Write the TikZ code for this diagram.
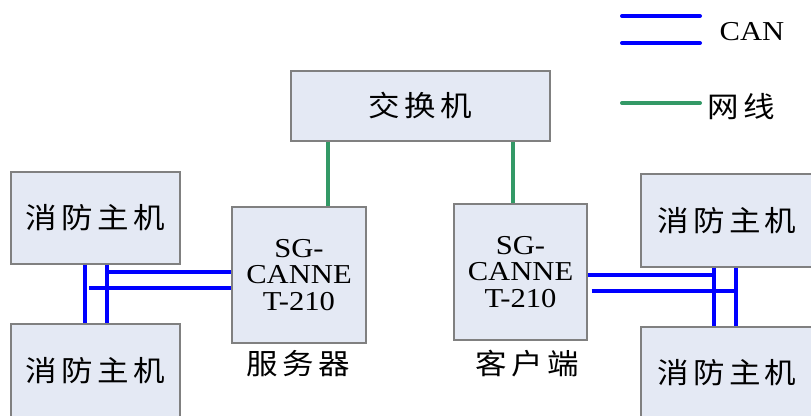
\documentclass[tikz,border=0pt]{standalone}
\usepackage{fontspec}
\setmainfont{Liberation Serif}[FakeStretch=1.12]
\newfontfamily\cjk{Noto Sans CJK SC}[FakeStretch=1.1, LetterSpace=15]
\usepackage{xcolor}
\usetikzlibrary{positioning}

\definecolor{boxfill}{RGB}{228,233,244}
\definecolor{boxgray}{RGB}{128,128,128}
\definecolor{canblue}{RGB}{0,0,255}
\definecolor{netgreen}{RGB}{51,153,102}

\tikzset{
  box/.style={draw=boxgray, fill=boxfill, line width=0.8pt, inner sep=0pt, align=center},
  zh/.style={font=\cjk\fontsize{21.5pt}{24pt}\selectfont},
  en/.style={font=\fontsize{20.5pt}{20pt}\selectfont},
  canbus/.style={draw=canblue, line width=3.6pt},
  canline/.style={draw=canblue, line width=3pt},
  netline/.style={draw=netgreen, line width=3pt},
}

\begin{document}
\begin{tikzpicture}[x=0.75pt, y=-0.75pt]
\useasboundingbox (0,0) rectangle (811,416);

% boxes
\node[box, zh, minimum width=194.25pt, minimum height=52.5pt] (sw) at (420.5,106) {交换机};
\node[box, zh, minimum width=126.75pt, minimum height=69pt] (h1) at (95.5,218) {消防主机};
\node[box, zh, minimum width=126.75pt, minimum height=70.5pt] (h2) at (95.5,371) {消防主机};
\node[box, zh, minimum width=129pt, minimum height=69.75pt] (h3) at (727,220.5) {消防主机};
\node[box, zh, minimum width=129pt, minimum height=68.25pt] (h4) at (727,372.5) {消防主机};
\node[box, en, minimum width=100.5pt, minimum height=102pt] (srv) at (299,275) {SG-\\CANNE\\T-210};
\node[box, en, minimum width=99.75pt, minimum height=102pt] (cli) at (520.5,272) {SG-\\CANNE\\T-210};
\node[zh, inner sep=0pt] (srvlbl) at (298,364) {服务器};
\node[zh, inner sep=0pt] (clilbl) at (527,364) {客户端};

% network cable
\coordinate (gA) at (328,0);
\coordinate (gB) at (513,0);
\draw[netline] (sw.south -| gA) -- (srv.north -| gA);
\draw[netline] (sw.south -| gB) -- (cli.north -| gB);

% CAN bus, left
\coordinate (lbA) at (85,0);
\coordinate (lbB) at (107,0);
\coordinate (lcA) at (0,272);
\coordinate (lcB) at (0,288);
\draw[canbus] (h1.south -| lbA) -- (h2.north -| lbA);
\draw[canbus] (h1.south -| lbB) -- (h2.north -| lbB);
\draw[canline] (lbB |- lcA) -- (srv.west |- lcA);
\draw[canline] ([xshift=3pt]lbA |- lcB) -- (srv.west |- lcB);

% CAN bus, right
\coordinate (rbA) at (714,0);
\coordinate (rbB) at (736,0);
\coordinate (rcA) at (0,275);
\coordinate (rcB) at (0,291);
\draw[canbus] (h3.south -| rbA) -- (h4.north -| rbA);
\draw[canbus] (h3.south -| rbB) -- (h4.north -| rbB);
\draw[canline] (cli.east |- rcA) -- (rbA |- rcA);
\draw[canline] ([xshift=3pt]cli.east |- rcB) -- (rbB |- rcB);

% legend
\draw[canline, line cap=round] (622,16) -- (700,16);
\draw[canline, line cap=round] (622,43) -- (700,43);
\node[en, inner sep=0pt] (canlbl) at (752,32) {CAN};
\draw[netline, line cap=round] (622,103) -- (700,103);
\node[zh, inner sep=0pt] (netlbl) at (741,107) {网线};
\end{tikzpicture}
\end{document}
